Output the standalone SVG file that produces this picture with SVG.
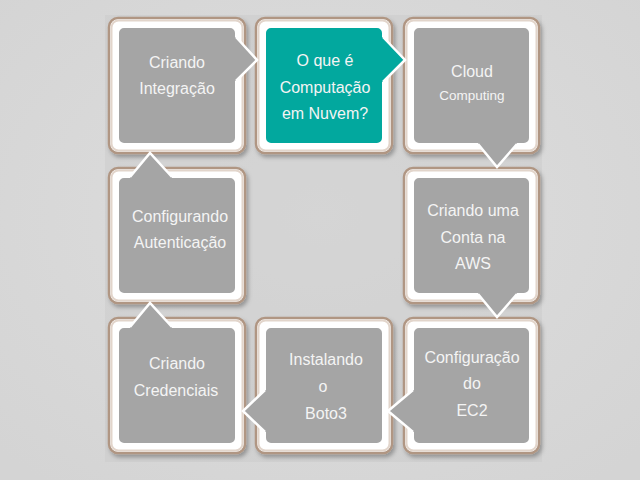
<svg xmlns="http://www.w3.org/2000/svg" width="640" height="480" viewBox="0 0 640 480">
<defs>
<filter id="sh" x="-10%" y="-10%" width="125%" height="125%">
<feDropShadow dx="2" dy="3" stdDeviation="2" flood-color="#000" flood-opacity="0.3"/>
</filter>
<radialGradient id="bg" cx="50%" cy="45%" r="70%">
<stop offset="0" stop-color="#dedede"/>
<stop offset="1" stop-color="#d4d4d4"/>
</radialGradient>
</defs>
<style>
.frame{fill:#ffffff;stroke:#b09683;stroke-width:2.5;filter:url(#sh)}
.frame-in{fill:none;stroke:#e2d5cb;stroke-width:2}
.card{fill:#a5a5a5;stroke:#ffffff;stroke-width:2}
.teal{fill:#02a89e}
.pf{fill:#a5a5a5}
.pft{fill:#02a89e}
.pe{fill:none;stroke:#ffffff;stroke-width:2.5;stroke-linejoin:miter}
text{font-family:"Liberation Sans",Arial,sans-serif;font-size:16px;fill:#f4f4f4;text-anchor:middle}
.sm{font-size:13.5px}
</style>
<rect width="640" height="480" fill="url(#bg)"/>
<rect x="105" y="15" width="437" height="447" fill="#c8c8c8" opacity="0.4"/>

<g id="frames">
<rect class="frame" x="109" y="18" width="136" height="135" rx="9"/>
<rect class="frame" x="256" y="18" width="136" height="135" rx="9"/>
<rect class="frame" x="404" y="18" width="135" height="135" rx="9"/>
<rect class="frame" x="404" y="168" width="135" height="135" rx="9"/>
<rect class="frame" x="404" y="318" width="135" height="135" rx="9"/>
<rect class="frame" x="256" y="318" width="136" height="135" rx="9"/>
<rect class="frame" x="109" y="318" width="136" height="135" rx="9"/>
<rect class="frame" x="109" y="168" width="136" height="135" rx="9"/>
<rect class="frame-in" x="111.5" y="20.5" width="131" height="130" rx="7"/>
<rect class="frame-in" x="258.5" y="20.5" width="131" height="130" rx="7"/>
<rect class="frame-in" x="406.5" y="20.5" width="130" height="130" rx="7"/>
<rect class="frame-in" x="406.5" y="170.5" width="130" height="130" rx="7"/>
<rect class="frame-in" x="406.5" y="320.5" width="130" height="130" rx="7"/>
<rect class="frame-in" x="258.5" y="320.5" width="131" height="130" rx="7"/>
<rect class="frame-in" x="111.5" y="320.5" width="131" height="130" rx="7"/>
<rect class="frame-in" x="111.5" y="170.5" width="131" height="130" rx="7"/>
</g>

<g id="n1">
<rect class="card" x="118" y="27" width="118" height="117" rx="6"/>
<text x="177" y="68">Criando</text>
<text x="177" y="94">Integração</text>
</g>
<g id="n2">
<rect class="card teal" x="265" y="27" width="118" height="117" rx="6"/>
<text x="325" y="66">O que é</text>
<text x="325" y="92.5">Computação</text>
<text x="325" y="119">em Nuvem?</text>
</g>
<g id="n3">
<rect class="card" x="413" y="27" width="117" height="117" rx="6"/>
<text x="472" y="77">Cloud</text>
<text class="sm" x="472" y="100">Computing</text>
</g>
<g id="n4">
<rect class="card" x="413" y="177" width="117" height="117" rx="6"/>
<text x="473" y="216">Criando uma</text>
<text x="473" y="243">Conta na</text>
<text x="473" y="269">AWS</text>
</g>
<g id="n5">
<rect class="card" x="413" y="327" width="117" height="117" rx="6"/>
<text x="472" y="363">Configuração</text>
<text x="472" y="389">do</text>
<text x="472" y="416">EC2</text>
</g>
<g id="n6">
<rect class="card" x="265" y="327" width="118" height="117" rx="6"/>
<text x="326" y="365">Instalando</text>
<text x="323" y="392">o</text>
<text x="326" y="419">Boto3</text>
</g>
<g id="n7">
<rect class="card" x="118" y="327" width="118" height="117" rx="6"/>
<text x="177" y="369">Criando</text>
<text x="176" y="396">Credenciais</text>
</g>
<g id="n8">
<rect class="card" x="118" y="177" width="118" height="117" rx="6"/>
<text x="180" y="222">Configurando</text>
<text x="180" y="248">Autenticação</text>
</g>

<g id="connectors">
<path class="pf" d="M232,37 L236,37 L257,60 L236,81 L232,81 Z"/>
<path class="pe" d="M236,37 L257,60 L236,81"/>
<path class="pft" d="M379,37 L383,37 L405,60 L383,82 L379,82 Z"/>
<path class="pe" d="M383,37 L405,60 L383,82"/>
<path class="pf" d="M478,140 L478,144 L497,167 L517,144 L517,140 Z"/>
<path class="pe" d="M478,144 L497,167 L517,144"/>
<path class="pf" d="M478,290 L478,294 L497,317 L517,294 L517,290 Z"/>
<path class="pe" d="M478,294 L497,317 L517,294"/>
<path class="pf" d="M417,390 L413,390 L388,411 L413,432 L417,432 Z"/>
<path class="pe" d="M413,390 L388,411 L413,432"/>
<path class="pf" d="M269,390 L265,390 L243,411 L265,432 L269,432 Z"/>
<path class="pe" d="M265,390 L243,411 L265,432"/>
<path class="pf" d="M130,331 L130,327 L150,303 L172,327 L172,331 Z"/>
<path class="pe" d="M130,327 L150,303 L172,327"/>
<path class="pf" d="M130,181 L130,177 L150,153 L172,177 L172,181 Z"/>
<path class="pe" d="M130,177 L150,153 L172,177"/>
</g>
</svg>
